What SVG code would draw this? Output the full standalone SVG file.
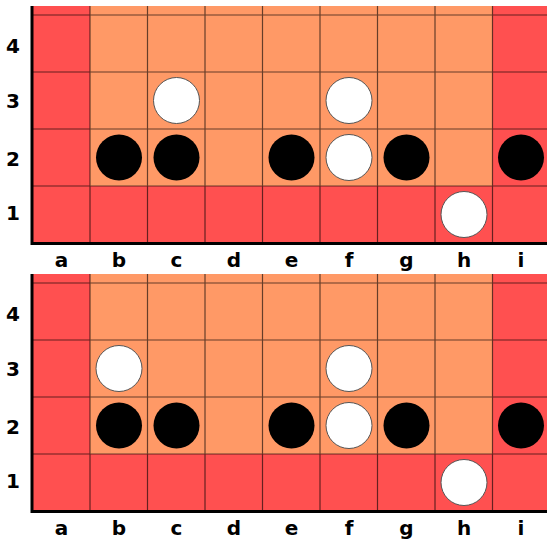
<svg xmlns="http://www.w3.org/2000/svg" width="547" height="541" viewBox="0 0 547 541">
<defs>
<style>
.red{fill:#FF5050}
.org{fill:#FF9966}
.grid{stroke:#000;stroke-opacity:0.6;stroke-width:1.2;fill:none}
.edge{stroke:#000;stroke-width:3;fill:none}
.w{fill:#fff;stroke:#555;stroke-width:1}
.b{fill:#000}
.lbl{font-family:"DejaVu Sans","Liberation Sans",sans-serif;font-weight:bold;font-size:20px;fill:#000;text-anchor:middle}
</style>
<g id="boardbg">
<rect class="org" x="33" y="0" width="514" height="237"/>
<rect class="red" x="33" y="0" width="57" height="237"/>
<rect class="red" x="492.5" y="0" width="55" height="237"/>
<rect class="red" x="33" y="180" width="514" height="57"/>
<path class="grid" d="M33 9H547M33 66H547M33 123H547M33 180H547M90 0V237M147.5 0V237M205 0V237M262.5 0V237M320 0V237M377.5 0V237M435 0V237M492.5 0V237"/>
<path class="edge" d="M32 0V237.5H547"/>
</g>
</defs>
<rect width="547" height="541" fill="#fff"/>
<g id="board1">
<use href="#boardbg" x="0" y="6"/>
</g>
<g id="board2">
<use href="#boardbg" x="0" y="274"/>
</g>
<g id="labels1" class="lbl">
<text x="13" y="53">4</text>
<text x="13" y="108">3</text>
<text x="13" y="166">2</text>
<text x="13" y="220">1</text>
<text x="61.5" y="267">a</text>
<text x="119" y="267">b</text>
<text x="176.5" y="267">c</text>
<text x="234" y="267">d</text>
<text x="291.5" y="267">e</text>
<text x="349" y="267">f</text>
<text x="406.5" y="267">g</text>
<text x="464" y="267">h</text>
<text x="521" y="267">i</text>
</g>
<g id="labels2" class="lbl">
<text x="13" y="321">4</text>
<text x="13" y="376">3</text>
<text x="13" y="434">2</text>
<text x="13" y="488">1</text>
<text x="61.5" y="535">a</text>
<text x="119" y="535">b</text>
<text x="176.5" y="535">c</text>
<text x="234" y="535">d</text>
<text x="291.5" y="535">e</text>
<text x="349" y="535">f</text>
<text x="406.5" y="535">g</text>
<text x="464" y="535">h</text>
<text x="521" y="535">i</text>
</g>
<g id="stones1">
<g id="s1-c3"><circle class="w" cx="176.5" cy="100.5" r="23"/></g>
<g id="s1-f3"><circle class="w" cx="349" cy="100.5" r="23"/></g>
<g id="s1-b2"><circle class="b" cx="119" cy="157.5" r="23"/></g>
<g id="s1-c2"><circle class="b" cx="176.5" cy="157.5" r="23"/></g>
<g id="s1-e2"><circle class="b" cx="291.5" cy="157.5" r="23"/></g>
<g id="s1-f2"><circle class="w" cx="349" cy="157.5" r="23"/></g>
<g id="s1-g2"><circle class="b" cx="406.5" cy="157.5" r="23"/></g>
<g id="s1-i2"><circle class="b" cx="521" cy="157.5" r="23"/></g>
<g id="s1-h1"><circle class="w" cx="464" cy="214.5" r="23"/></g>
</g>
<g id="stones2">
<g id="s2-b3"><circle class="w" cx="119" cy="368.5" r="23"/></g>
<g id="s2-f3"><circle class="w" cx="349" cy="368.5" r="23"/></g>
<g id="s2-b2"><circle class="b" cx="119" cy="425.5" r="23"/></g>
<g id="s2-c2"><circle class="b" cx="176.5" cy="425.5" r="23"/></g>
<g id="s2-e2"><circle class="b" cx="291.5" cy="425.5" r="23"/></g>
<g id="s2-f2"><circle class="w" cx="349" cy="425.5" r="23"/></g>
<g id="s2-g2"><circle class="b" cx="406.5" cy="425.5" r="23"/></g>
<g id="s2-i2"><circle class="b" cx="521" cy="425.5" r="23"/></g>
<g id="s2-h1"><circle class="w" cx="464" cy="482.5" r="23"/></g>
</g>
</svg>
